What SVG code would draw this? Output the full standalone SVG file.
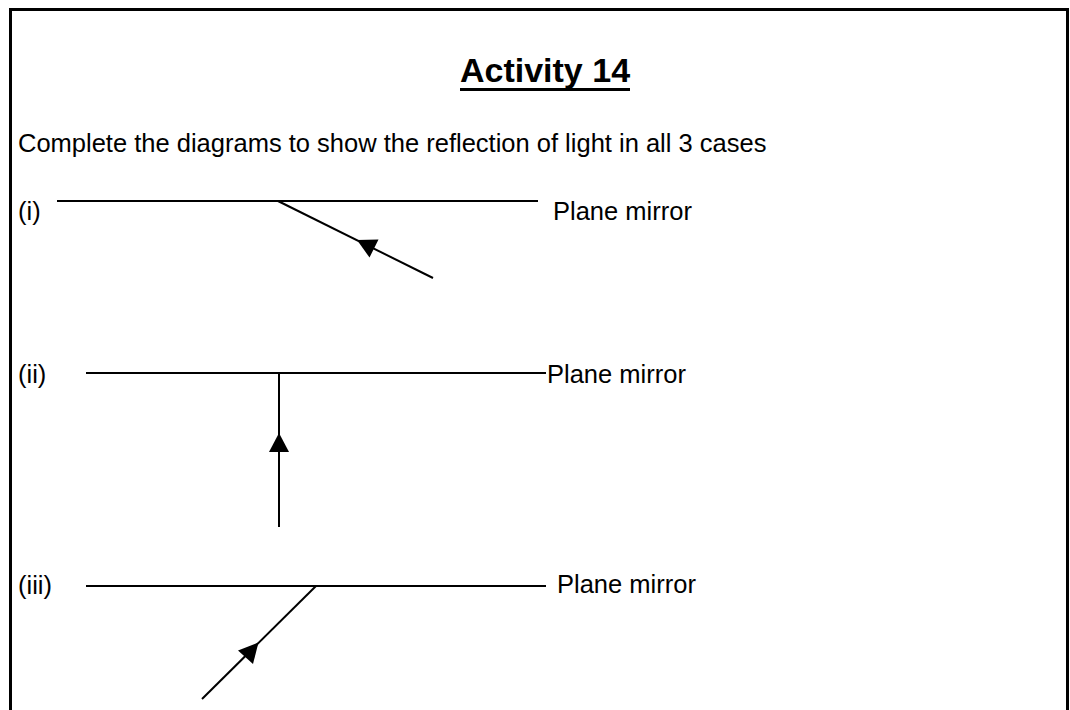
<svg xmlns="http://www.w3.org/2000/svg" width="1070" height="710" viewBox="0 0 1070 710">
<style>
.t{font-family:"Liberation Sans",Arial,sans-serif;font-size:25.5px;fill:#000}
.title{font-family:"Liberation Sans",Arial,sans-serif;font-size:34px;font-weight:bold;fill:#000}
.m{stroke:#000;stroke-width:2;fill:none}
.r{stroke:#000;stroke-width:2;fill:none}
.ah{fill:#000}
</style>
<rect x="0" y="0" width="1070" height="710" fill="#fff"/>
<path d="M10.5 725 V9.5 H1067.5 V725" fill="none" stroke="#000" stroke-width="3"/>
<g id="title">
<text class="title" x="545" y="82" text-anchor="middle">Activity 14</text>
<rect x="460" y="88" width="170" height="3" fill="#000"/>
</g>
<text class="t" x="18" y="152">Complete the diagrams to show the reflection of light in all 3 cases</text>
<g id="case1">
<text class="t" x="18" y="220">(i)</text>
<line class="m" x1="57" y1="201" x2="538" y2="201"/>
<text class="t" x="553" y="220">Plane mirror</text>
</g>
<g id="case2">
<text class="t" x="18" y="383">(ii)</text>
<line class="m" x1="86" y1="373" x2="546" y2="373"/>
<text class="t" x="547" y="383">Plane mirror</text>
</g>
<g id="case3">
<text class="t" x="18" y="594">(iii)</text>
<line class="m" x1="86" y1="586" x2="546" y2="586"/>
<text class="t" x="557" y="593">Plane mirror</text>
</g>
<g id="connectors">
<line class="r" x1="278" y1="201" x2="433" y2="278"/>
<polygon class="ah" points="357,240 378.5,239.5 369.5,257.5"/>
<line class="r" x1="279" y1="373" x2="279" y2="527"/>
<polygon class="ah" points="279,433 289,452 269,452"/>
<line class="r" x1="316" y1="586" x2="202" y2="699"/>
<polygon class="ah" points="258.5,642.5 238,650.5 253,664"/>
</g>
</svg>
